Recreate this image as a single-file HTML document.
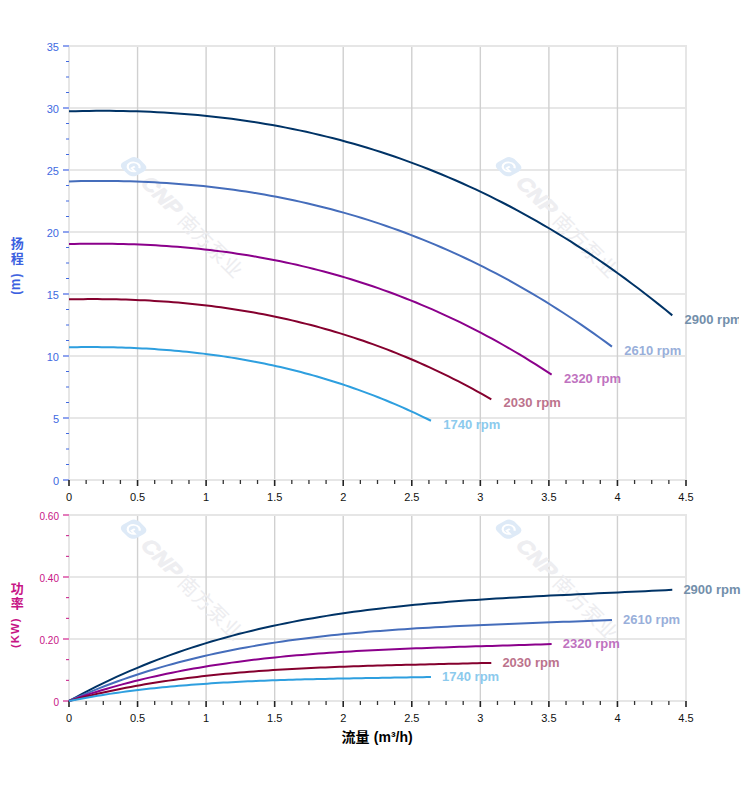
<!DOCTYPE html>
<html><head><meta charset="utf-8"><title>Pump curves</title>
<style>html,body{margin:0;padding:0;background:#fff}body{width:752px;height:797px;overflow:hidden;font-family:"Liberation Sans",sans-serif}</style>
</head><body>
<svg width="752" height="797" viewBox="0 0 752 797" style="display:block;font-family:'Liberation Sans',sans-serif">
<rect width="752" height="797" fill="#fff"/>
<line x1="69" x2="686" y1="480" y2="480" stroke="#cfcfcf" stroke-width="1"/>
<line x1="69" x2="686" y1="418" y2="418" stroke="#cfcfcf" stroke-width="1"/>
<line x1="69" x2="686" y1="356" y2="356" stroke="#cfcfcf" stroke-width="1"/>
<line x1="69" x2="686" y1="294" y2="294" stroke="#cfcfcf" stroke-width="1"/>
<line x1="69" x2="686" y1="232" y2="232" stroke="#cfcfcf" stroke-width="1"/>
<line x1="69" x2="686" y1="170" y2="170" stroke="#cfcfcf" stroke-width="1"/>
<line x1="69" x2="686" y1="108" y2="108" stroke="#cfcfcf" stroke-width="1"/>
<line x1="69" x2="686" y1="46" y2="46" stroke="#cfcfcf" stroke-width="1"/>
<line x1="69" x2="69" y1="46" y2="480" stroke="#d0d0d0" stroke-width="1.4"/>
<line x1="137.56" x2="137.56" y1="46" y2="480" stroke="#d0d0d0" stroke-width="1.4"/>
<line x1="206.11" x2="206.11" y1="46" y2="480" stroke="#d0d0d0" stroke-width="1.4"/>
<line x1="274.67" x2="274.67" y1="46" y2="480" stroke="#d0d0d0" stroke-width="1.4"/>
<line x1="343.22" x2="343.22" y1="46" y2="480" stroke="#d0d0d0" stroke-width="1.4"/>
<line x1="411.78" x2="411.78" y1="46" y2="480" stroke="#d0d0d0" stroke-width="1.4"/>
<line x1="480.33" x2="480.33" y1="46" y2="480" stroke="#d0d0d0" stroke-width="1.4"/>
<line x1="548.89" x2="548.89" y1="46" y2="480" stroke="#d0d0d0" stroke-width="1.4"/>
<line x1="617.44" x2="617.44" y1="46" y2="480" stroke="#d0d0d0" stroke-width="1.4"/>
<line x1="686" x2="686" y1="46" y2="480" stroke="#d0d0d0" stroke-width="1.4"/>
<rect x="69" y="46" width="617" height="434" fill="none" stroke="#e6e6e6" stroke-width="2"/>
<g transform="translate(133.6 166.7) rotate(45)">
<g transform="skewX(-16)">
<rect x="-9.5" y="-9.5" width="19" height="19" rx="5.5" fill="#deeaf7"/>
<path d="M4.4 -3 A5.2 5.2 0 1 0 4.9 2.4 L0.4 2.4 L0.4 -1" fill="none" stroke="#fff" stroke-width="1.9"/>
</g>
<text transform="translate(15.5 7.6) skewX(-14)" font-size="20.7" font-weight="bold" fill="#eeeef1" stroke="#eeeef1" stroke-width="0.8" textLength="47" lengthAdjust="spacingAndGlyphs">CNP</text>
<text x="69.2 89.7 110.2 130.7" y="8.4" font-size="20" fill="#ededf0" style="font-family:'Liberation Sans','Noto Sans CJK SC',sans-serif">南方泵业</text>
</g>
<g transform="translate(508.6 166.7) rotate(45)">
<g transform="skewX(-16)">
<rect x="-9.5" y="-9.5" width="19" height="19" rx="5.5" fill="#deeaf7"/>
<path d="M4.4 -3 A5.2 5.2 0 1 0 4.9 2.4 L0.4 2.4 L0.4 -1" fill="none" stroke="#fff" stroke-width="1.9"/>
</g>
<text transform="translate(15.5 7.6) skewX(-14)" font-size="20.7" font-weight="bold" fill="#eeeef1" stroke="#eeeef1" stroke-width="0.8" textLength="47" lengthAdjust="spacingAndGlyphs">CNP</text>
<text x="69.2 89.7 110.2 130.7" y="8.4" font-size="20" fill="#ededf0" style="font-family:'Liberation Sans','Noto Sans CJK SC',sans-serif">南方泵业</text>
</g>
<line x1="63" x2="69" y1="480" y2="480" stroke="#8fa3ee" stroke-width="2"/>
<text x="59" y="484.9" font-size="11" fill="#4169e1" text-anchor="end">0</text>
<line x1="66" x2="69" y1="464.5" y2="464.5" stroke="#4169e1" stroke-width="1"/>
<line x1="66" x2="69" y1="449" y2="449" stroke="#4169e1" stroke-width="1"/>
<line x1="66" x2="69" y1="433.5" y2="433.5" stroke="#4169e1" stroke-width="1"/>
<line x1="63" x2="69" y1="418" y2="418" stroke="#8fa3ee" stroke-width="2"/>
<text x="59" y="422.9" font-size="11" fill="#4169e1" text-anchor="end">5</text>
<line x1="66" x2="69" y1="402.5" y2="402.5" stroke="#4169e1" stroke-width="1"/>
<line x1="66" x2="69" y1="387" y2="387" stroke="#4169e1" stroke-width="1"/>
<line x1="66" x2="69" y1="371.5" y2="371.5" stroke="#4169e1" stroke-width="1"/>
<line x1="63" x2="69" y1="356" y2="356" stroke="#8fa3ee" stroke-width="2"/>
<text x="59" y="360.9" font-size="11" fill="#4169e1" text-anchor="end">10</text>
<line x1="66" x2="69" y1="340.5" y2="340.5" stroke="#4169e1" stroke-width="1"/>
<line x1="66" x2="69" y1="325" y2="325" stroke="#4169e1" stroke-width="1"/>
<line x1="66" x2="69" y1="309.5" y2="309.5" stroke="#4169e1" stroke-width="1"/>
<line x1="63" x2="69" y1="294" y2="294" stroke="#8fa3ee" stroke-width="2"/>
<text x="59" y="298.9" font-size="11" fill="#4169e1" text-anchor="end">15</text>
<line x1="66" x2="69" y1="278.5" y2="278.5" stroke="#4169e1" stroke-width="1"/>
<line x1="66" x2="69" y1="263" y2="263" stroke="#4169e1" stroke-width="1"/>
<line x1="66" x2="69" y1="247.5" y2="247.5" stroke="#4169e1" stroke-width="1"/>
<line x1="63" x2="69" y1="232" y2="232" stroke="#8fa3ee" stroke-width="2"/>
<text x="59" y="236.9" font-size="11" fill="#4169e1" text-anchor="end">20</text>
<line x1="66" x2="69" y1="216.5" y2="216.5" stroke="#4169e1" stroke-width="1"/>
<line x1="66" x2="69" y1="201" y2="201" stroke="#4169e1" stroke-width="1"/>
<line x1="66" x2="69" y1="185.5" y2="185.5" stroke="#4169e1" stroke-width="1"/>
<line x1="63" x2="69" y1="170" y2="170" stroke="#8fa3ee" stroke-width="2"/>
<text x="59" y="174.9" font-size="11" fill="#4169e1" text-anchor="end">25</text>
<line x1="66" x2="69" y1="154.5" y2="154.5" stroke="#4169e1" stroke-width="1"/>
<line x1="66" x2="69" y1="139" y2="139" stroke="#4169e1" stroke-width="1"/>
<line x1="66" x2="69" y1="123.5" y2="123.5" stroke="#4169e1" stroke-width="1"/>
<line x1="63" x2="69" y1="108" y2="108" stroke="#8fa3ee" stroke-width="2"/>
<text x="59" y="112.9" font-size="11" fill="#4169e1" text-anchor="end">30</text>
<line x1="66" x2="69" y1="92.5" y2="92.5" stroke="#4169e1" stroke-width="1"/>
<line x1="66" x2="69" y1="77" y2="77" stroke="#4169e1" stroke-width="1"/>
<line x1="66" x2="69" y1="61.5" y2="61.5" stroke="#4169e1" stroke-width="1"/>
<line x1="63" x2="69" y1="46" y2="46" stroke="#8fa3ee" stroke-width="2"/>
<text x="59" y="50.9" font-size="11" fill="#4169e1" text-anchor="end">35</text>
<line x1="69" x2="69" y1="480" y2="486" stroke="#222" stroke-width="1.6"/>
<text x="69" y="501" font-size="11" fill="#111" text-anchor="middle">0</text>
<line x1="86.14" x2="86.14" y1="480" y2="484" stroke="#333" stroke-width="1.3"/>
<line x1="103.28" x2="103.28" y1="480" y2="484" stroke="#333" stroke-width="1.3"/>
<line x1="120.42" x2="120.42" y1="480" y2="484" stroke="#333" stroke-width="1.3"/>
<line x1="137.56" x2="137.56" y1="480" y2="486" stroke="#222" stroke-width="1.6"/>
<text x="137.56" y="501" font-size="11" fill="#111" text-anchor="middle">0.5</text>
<line x1="154.69" x2="154.69" y1="480" y2="484" stroke="#333" stroke-width="1.3"/>
<line x1="171.83" x2="171.83" y1="480" y2="484" stroke="#333" stroke-width="1.3"/>
<line x1="188.97" x2="188.97" y1="480" y2="484" stroke="#333" stroke-width="1.3"/>
<line x1="206.11" x2="206.11" y1="480" y2="486" stroke="#222" stroke-width="1.6"/>
<text x="206.11" y="501" font-size="11" fill="#111" text-anchor="middle">1</text>
<line x1="223.25" x2="223.25" y1="480" y2="484" stroke="#333" stroke-width="1.3"/>
<line x1="240.39" x2="240.39" y1="480" y2="484" stroke="#333" stroke-width="1.3"/>
<line x1="257.53" x2="257.53" y1="480" y2="484" stroke="#333" stroke-width="1.3"/>
<line x1="274.67" x2="274.67" y1="480" y2="486" stroke="#222" stroke-width="1.6"/>
<text x="274.67" y="501" font-size="11" fill="#111" text-anchor="middle">1.5</text>
<line x1="291.81" x2="291.81" y1="480" y2="484" stroke="#333" stroke-width="1.3"/>
<line x1="308.94" x2="308.94" y1="480" y2="484" stroke="#333" stroke-width="1.3"/>
<line x1="326.08" x2="326.08" y1="480" y2="484" stroke="#333" stroke-width="1.3"/>
<line x1="343.22" x2="343.22" y1="480" y2="486" stroke="#222" stroke-width="1.6"/>
<text x="343.22" y="501" font-size="11" fill="#111" text-anchor="middle">2</text>
<line x1="360.36" x2="360.36" y1="480" y2="484" stroke="#333" stroke-width="1.3"/>
<line x1="377.5" x2="377.5" y1="480" y2="484" stroke="#333" stroke-width="1.3"/>
<line x1="394.64" x2="394.64" y1="480" y2="484" stroke="#333" stroke-width="1.3"/>
<line x1="411.78" x2="411.78" y1="480" y2="486" stroke="#222" stroke-width="1.6"/>
<text x="411.78" y="501" font-size="11" fill="#111" text-anchor="middle">2.5</text>
<line x1="428.92" x2="428.92" y1="480" y2="484" stroke="#333" stroke-width="1.3"/>
<line x1="446.06" x2="446.06" y1="480" y2="484" stroke="#333" stroke-width="1.3"/>
<line x1="463.19" x2="463.19" y1="480" y2="484" stroke="#333" stroke-width="1.3"/>
<line x1="480.33" x2="480.33" y1="480" y2="486" stroke="#222" stroke-width="1.6"/>
<text x="480.33" y="501" font-size="11" fill="#111" text-anchor="middle">3</text>
<line x1="497.47" x2="497.47" y1="480" y2="484" stroke="#333" stroke-width="1.3"/>
<line x1="514.61" x2="514.61" y1="480" y2="484" stroke="#333" stroke-width="1.3"/>
<line x1="531.75" x2="531.75" y1="480" y2="484" stroke="#333" stroke-width="1.3"/>
<line x1="548.89" x2="548.89" y1="480" y2="486" stroke="#222" stroke-width="1.6"/>
<text x="548.89" y="501" font-size="11" fill="#111" text-anchor="middle">3.5</text>
<line x1="566.03" x2="566.03" y1="480" y2="484" stroke="#333" stroke-width="1.3"/>
<line x1="583.17" x2="583.17" y1="480" y2="484" stroke="#333" stroke-width="1.3"/>
<line x1="600.31" x2="600.31" y1="480" y2="484" stroke="#333" stroke-width="1.3"/>
<line x1="617.44" x2="617.44" y1="480" y2="486" stroke="#222" stroke-width="1.6"/>
<text x="617.44" y="501" font-size="11" fill="#111" text-anchor="middle">4</text>
<line x1="634.58" x2="634.58" y1="480" y2="484" stroke="#333" stroke-width="1.3"/>
<line x1="651.72" x2="651.72" y1="480" y2="484" stroke="#333" stroke-width="1.3"/>
<line x1="668.86" x2="668.86" y1="480" y2="484" stroke="#333" stroke-width="1.3"/>
<line x1="686" x2="686" y1="480" y2="486" stroke="#222" stroke-width="1.6"/>
<text x="686" y="501" font-size="11" fill="#111" text-anchor="middle">4.5</text>
<line x1="69" x2="686" y1="701" y2="701" stroke="#cfcfcf" stroke-width="1"/>
<line x1="69" x2="686" y1="639" y2="639" stroke="#cfcfcf" stroke-width="1"/>
<line x1="69" x2="686" y1="577" y2="577" stroke="#cfcfcf" stroke-width="1"/>
<line x1="69" x2="686" y1="515" y2="515" stroke="#cfcfcf" stroke-width="1"/>
<line x1="69" x2="69" y1="515" y2="701" stroke="#d0d0d0" stroke-width="1.4"/>
<line x1="137.56" x2="137.56" y1="515" y2="701" stroke="#d0d0d0" stroke-width="1.4"/>
<line x1="206.11" x2="206.11" y1="515" y2="701" stroke="#d0d0d0" stroke-width="1.4"/>
<line x1="274.67" x2="274.67" y1="515" y2="701" stroke="#d0d0d0" stroke-width="1.4"/>
<line x1="343.22" x2="343.22" y1="515" y2="701" stroke="#d0d0d0" stroke-width="1.4"/>
<line x1="411.78" x2="411.78" y1="515" y2="701" stroke="#d0d0d0" stroke-width="1.4"/>
<line x1="480.33" x2="480.33" y1="515" y2="701" stroke="#d0d0d0" stroke-width="1.4"/>
<line x1="548.89" x2="548.89" y1="515" y2="701" stroke="#d0d0d0" stroke-width="1.4"/>
<line x1="617.44" x2="617.44" y1="515" y2="701" stroke="#d0d0d0" stroke-width="1.4"/>
<line x1="686" x2="686" y1="515" y2="701" stroke="#d0d0d0" stroke-width="1.4"/>
<rect x="69" y="515" width="617" height="186" fill="none" stroke="#e6e6e6" stroke-width="2"/>
<g transform="translate(133.6 529.2) rotate(45)">
<g transform="skewX(-16)">
<rect x="-9.5" y="-9.5" width="19" height="19" rx="5.5" fill="#deeaf7"/>
<path d="M4.4 -3 A5.2 5.2 0 1 0 4.9 2.4 L0.4 2.4 L0.4 -1" fill="none" stroke="#fff" stroke-width="1.9"/>
</g>
<text transform="translate(15.5 7.6) skewX(-14)" font-size="20.7" font-weight="bold" fill="#eeeef1" stroke="#eeeef1" stroke-width="0.8" textLength="47" lengthAdjust="spacingAndGlyphs">CNP</text>
<text x="69.2 89.7 110.2 130.7" y="8.4" font-size="20" fill="#ededf0" style="font-family:'Liberation Sans','Noto Sans CJK SC',sans-serif">南方泵业</text>
</g>
<g transform="translate(508.6 529.2) rotate(45)">
<g transform="skewX(-16)">
<rect x="-9.5" y="-9.5" width="19" height="19" rx="5.5" fill="#deeaf7"/>
<path d="M4.4 -3 A5.2 5.2 0 1 0 4.9 2.4 L0.4 2.4 L0.4 -1" fill="none" stroke="#fff" stroke-width="1.9"/>
</g>
<text transform="translate(15.5 7.6) skewX(-14)" font-size="20.7" font-weight="bold" fill="#eeeef1" stroke="#eeeef1" stroke-width="0.8" textLength="47" lengthAdjust="spacingAndGlyphs">CNP</text>
<text x="69.2 89.7 110.2 130.7" y="8.4" font-size="20" fill="#ededf0" style="font-family:'Liberation Sans','Noto Sans CJK SC',sans-serif">南方泵业</text>
</g>
<line x1="63" x2="69" y1="701" y2="701" stroke="#e37cbb" stroke-width="2"/>
<text x="59" y="706" font-size="10" fill="#c71585" text-anchor="end">0</text>
<line x1="66" x2="69" y1="680.33" y2="680.33" stroke="#c71585" stroke-width="1"/>
<line x1="66" x2="69" y1="659.67" y2="659.67" stroke="#c71585" stroke-width="1"/>
<line x1="63" x2="69" y1="639" y2="639" stroke="#e37cbb" stroke-width="2"/>
<text x="59" y="644" font-size="10" fill="#c71585" text-anchor="end">0.20</text>
<line x1="66" x2="69" y1="618.33" y2="618.33" stroke="#c71585" stroke-width="1"/>
<line x1="66" x2="69" y1="597.67" y2="597.67" stroke="#c71585" stroke-width="1"/>
<line x1="63" x2="69" y1="577" y2="577" stroke="#e37cbb" stroke-width="2"/>
<text x="59" y="582" font-size="10" fill="#c71585" text-anchor="end">0.40</text>
<line x1="66" x2="69" y1="556.33" y2="556.33" stroke="#c71585" stroke-width="1"/>
<line x1="66" x2="69" y1="535.67" y2="535.67" stroke="#c71585" stroke-width="1"/>
<line x1="63" x2="69" y1="515" y2="515" stroke="#e37cbb" stroke-width="2"/>
<text x="59" y="520" font-size="10" fill="#c71585" text-anchor="end">0.60</text>
<line x1="69" x2="69" y1="701" y2="707" stroke="#222" stroke-width="1.6"/>
<text x="69" y="722" font-size="11" fill="#111" text-anchor="middle">0</text>
<line x1="86.14" x2="86.14" y1="701" y2="705" stroke="#333" stroke-width="1.3"/>
<line x1="103.28" x2="103.28" y1="701" y2="705" stroke="#333" stroke-width="1.3"/>
<line x1="120.42" x2="120.42" y1="701" y2="705" stroke="#333" stroke-width="1.3"/>
<line x1="137.56" x2="137.56" y1="701" y2="707" stroke="#222" stroke-width="1.6"/>
<text x="137.56" y="722" font-size="11" fill="#111" text-anchor="middle">0.5</text>
<line x1="154.69" x2="154.69" y1="701" y2="705" stroke="#333" stroke-width="1.3"/>
<line x1="171.83" x2="171.83" y1="701" y2="705" stroke="#333" stroke-width="1.3"/>
<line x1="188.97" x2="188.97" y1="701" y2="705" stroke="#333" stroke-width="1.3"/>
<line x1="206.11" x2="206.11" y1="701" y2="707" stroke="#222" stroke-width="1.6"/>
<text x="206.11" y="722" font-size="11" fill="#111" text-anchor="middle">1</text>
<line x1="223.25" x2="223.25" y1="701" y2="705" stroke="#333" stroke-width="1.3"/>
<line x1="240.39" x2="240.39" y1="701" y2="705" stroke="#333" stroke-width="1.3"/>
<line x1="257.53" x2="257.53" y1="701" y2="705" stroke="#333" stroke-width="1.3"/>
<line x1="274.67" x2="274.67" y1="701" y2="707" stroke="#222" stroke-width="1.6"/>
<text x="274.67" y="722" font-size="11" fill="#111" text-anchor="middle">1.5</text>
<line x1="291.81" x2="291.81" y1="701" y2="705" stroke="#333" stroke-width="1.3"/>
<line x1="308.94" x2="308.94" y1="701" y2="705" stroke="#333" stroke-width="1.3"/>
<line x1="326.08" x2="326.08" y1="701" y2="705" stroke="#333" stroke-width="1.3"/>
<line x1="343.22" x2="343.22" y1="701" y2="707" stroke="#222" stroke-width="1.6"/>
<text x="343.22" y="722" font-size="11" fill="#111" text-anchor="middle">2</text>
<line x1="360.36" x2="360.36" y1="701" y2="705" stroke="#333" stroke-width="1.3"/>
<line x1="377.5" x2="377.5" y1="701" y2="705" stroke="#333" stroke-width="1.3"/>
<line x1="394.64" x2="394.64" y1="701" y2="705" stroke="#333" stroke-width="1.3"/>
<line x1="411.78" x2="411.78" y1="701" y2="707" stroke="#222" stroke-width="1.6"/>
<text x="411.78" y="722" font-size="11" fill="#111" text-anchor="middle">2.5</text>
<line x1="428.92" x2="428.92" y1="701" y2="705" stroke="#333" stroke-width="1.3"/>
<line x1="446.06" x2="446.06" y1="701" y2="705" stroke="#333" stroke-width="1.3"/>
<line x1="463.19" x2="463.19" y1="701" y2="705" stroke="#333" stroke-width="1.3"/>
<line x1="480.33" x2="480.33" y1="701" y2="707" stroke="#222" stroke-width="1.6"/>
<text x="480.33" y="722" font-size="11" fill="#111" text-anchor="middle">3</text>
<line x1="497.47" x2="497.47" y1="701" y2="705" stroke="#333" stroke-width="1.3"/>
<line x1="514.61" x2="514.61" y1="701" y2="705" stroke="#333" stroke-width="1.3"/>
<line x1="531.75" x2="531.75" y1="701" y2="705" stroke="#333" stroke-width="1.3"/>
<line x1="548.89" x2="548.89" y1="701" y2="707" stroke="#222" stroke-width="1.6"/>
<text x="548.89" y="722" font-size="11" fill="#111" text-anchor="middle">3.5</text>
<line x1="566.03" x2="566.03" y1="701" y2="705" stroke="#333" stroke-width="1.3"/>
<line x1="583.17" x2="583.17" y1="701" y2="705" stroke="#333" stroke-width="1.3"/>
<line x1="600.31" x2="600.31" y1="701" y2="705" stroke="#333" stroke-width="1.3"/>
<line x1="617.44" x2="617.44" y1="701" y2="707" stroke="#222" stroke-width="1.6"/>
<text x="617.44" y="722" font-size="11" fill="#111" text-anchor="middle">4</text>
<line x1="634.58" x2="634.58" y1="701" y2="705" stroke="#333" stroke-width="1.3"/>
<line x1="651.72" x2="651.72" y1="701" y2="705" stroke="#333" stroke-width="1.3"/>
<line x1="668.86" x2="668.86" y1="701" y2="705" stroke="#333" stroke-width="1.3"/>
<line x1="686" x2="686" y1="701" y2="707" stroke="#222" stroke-width="1.6"/>
<text x="686" y="722" font-size="11" fill="#111" text-anchor="middle">4.5</text>
<defs><clipPath id="clip1"><rect x="0" y="0" width="739" height="797"/></clipPath></defs>
<path d="M69 111.33 L75.78 111.15 L82.56 111 L89.34 110.9 L96.11 110.84 L102.89 110.81 L109.67 110.83 L116.45 110.89 L123.23 110.99 L130.01 111.13 L136.79 111.32 L143.56 111.55 L150.34 111.83 L157.12 112.15 L163.9 112.51 L170.68 112.92 L177.46 113.38 L184.23 113.89 L191.01 114.45 L197.79 115.05 L204.57 115.7 L211.35 116.41 L218.13 117.16 L224.91 117.96 L231.68 118.82 L238.46 119.73 L245.24 120.69 L252.02 121.71 L258.8 122.78 L265.58 123.91 L272.36 125.09 L279.13 126.33 L285.91 127.62 L292.69 128.97 L299.47 130.38 L306.25 131.85 L313.03 133.38 L319.81 134.97 L326.58 136.61 L333.36 138.32 L340.14 140.09 L346.92 141.93 L353.7 143.83 L360.48 145.79 L367.26 147.81 L374.03 149.9 L380.81 152.05 L387.59 154.27 L394.37 156.56 L401.15 158.92 L407.93 161.34 L414.7 163.83 L421.48 166.39 L428.26 169.02 L435.04 171.72 L441.82 174.5 L448.6 177.34 L455.38 180.25 L462.15 183.24 L468.93 186.3 L475.71 189.44 L482.49 192.65 L489.27 195.94 L496.05 199.3 L502.83 202.74 L509.6 206.25 L516.38 209.85 L523.16 213.52 L529.94 217.27 L536.72 221.1 L543.5 225.01 L550.28 229.01 L557.05 233.08 L563.83 237.23 L570.61 241.47 L577.39 245.79 L584.17 250.2 L590.95 254.69 L597.73 259.27 L604.5 263.93 L611.28 268.67 L618.06 273.51 L624.84 278.43 L631.62 283.44 L638.4 288.54 L645.17 293.73 L651.95 299.01 L658.73 304.38 L665.51 309.84 L672.29 315.39" fill="none" stroke="#003366" stroke-width="2" stroke-linejoin="round"/>
<path d="M69 701 L75.78 697.27 L82.56 693.64 L89.34 690.11 L96.11 686.68 L102.89 683.35 L109.67 680.11 L116.45 676.96 L123.23 673.9 L130.01 670.93 L136.79 668.05 L143.56 665.25 L150.34 662.54 L157.12 659.91 L163.9 657.35 L170.68 654.88 L177.46 652.48 L184.23 650.16 L191.01 647.91 L197.79 645.73 L204.57 643.62 L211.35 641.58 L218.13 639.61 L224.91 637.7 L231.68 635.86 L238.46 634.08 L245.24 632.36 L252.02 630.69 L258.8 629.09 L265.58 627.54 L272.36 626.05 L279.13 624.61 L285.91 623.22 L292.69 621.88 L299.47 620.59 L306.25 619.34 L313.03 618.15 L319.81 616.99 L326.58 615.88 L333.36 614.82 L340.14 613.79 L346.92 612.8 L353.7 611.85 L360.48 610.94 L367.26 610.06 L374.03 609.22 L380.81 608.41 L387.59 607.63 L394.37 606.89 L401.15 606.17 L407.93 605.48 L414.7 604.82 L421.48 604.18 L428.26 603.57 L435.04 602.98 L441.82 602.41 L448.6 601.87 L455.38 601.35 L462.15 600.84 L468.93 600.36 L475.71 599.89 L482.49 599.44 L489.27 599 L496.05 598.58 L502.83 598.17 L509.6 597.78 L516.38 597.39 L523.16 597.02 L529.94 596.65 L536.72 596.3 L543.5 595.95 L550.28 595.61 L557.05 595.28 L563.83 594.95 L570.61 594.63 L577.39 594.31 L584.17 593.99 L590.95 593.68 L597.73 593.37 L604.5 593.06 L611.28 592.75 L618.06 592.44 L624.84 592.12 L631.62 591.81 L638.4 591.49 L645.17 591.18 L651.95 590.85 L658.73 590.52 L665.51 590.19 L672.29 589.85" fill="none" stroke="#003366" stroke-width="2" stroke-linejoin="round"/>
<text x="684.59" y="323.79" font-size="13" font-weight="bold" fill="#738fab" clip-path="url(#clip1)">2900 rpm</text>
<text x="683.39" y="594.25" font-size="13" font-weight="bold" fill="#738fab">2900 rpm</text>
<path d="M69 181.38 L75.1 181.23 L81.2 181.11 L87.3 181.03 L93.4 180.98 L99.5 180.96 L105.6 180.97 L111.7 181.02 L117.81 181.1 L123.91 181.22 L130.01 181.37 L136.11 181.56 L142.21 181.78 L148.31 182.04 L154.41 182.33 L160.51 182.67 L166.61 183.04 L172.71 183.45 L178.81 183.9 L184.91 184.39 L191.01 184.92 L197.11 185.49 L203.21 186.1 L209.32 186.75 L215.42 187.45 L221.52 188.18 L227.62 188.96 L233.72 189.78 L239.82 190.65 L245.92 191.56 L252.02 192.52 L258.12 193.52 L264.22 194.57 L270.32 195.67 L276.42 196.81 L282.52 198 L288.62 199.24 L294.72 200.52 L300.83 201.86 L306.93 203.24 L313.03 204.68 L319.13 206.16 L325.23 207.7 L331.33 209.29 L337.43 210.93 L343.53 212.62 L349.63 214.36 L355.73 216.16 L361.83 218.02 L367.93 219.92 L374.03 221.89 L380.13 223.9 L386.24 225.98 L392.34 228.11 L398.44 230.3 L404.54 232.54 L410.64 234.84 L416.74 237.21 L422.84 239.63 L428.94 242.11 L435.04 244.65 L441.14 247.25 L447.24 249.91 L453.34 252.63 L459.44 255.42 L465.54 258.27 L471.64 261.18 L477.75 264.15 L483.85 267.19 L489.95 270.29 L496.05 273.46 L502.15 276.69 L508.25 279.99 L514.35 283.36 L520.45 286.79 L526.55 290.29 L532.65 293.86 L538.75 297.5 L544.85 301.2 L550.95 304.98 L557.05 308.83 L563.15 312.74 L569.26 316.73 L575.36 320.79 L581.46 324.92 L587.56 329.12 L593.66 333.4 L599.76 337.75 L605.86 342.17 L611.96 346.67" fill="none" stroke="#456dbb" stroke-width="2" stroke-linejoin="round"/>
<path d="M69 701 L75.1 698.28 L81.2 695.64 L87.3 693.06 L93.4 690.56 L99.5 688.13 L105.6 685.77 L111.7 683.47 L117.81 681.24 L123.91 679.08 L130.01 676.98 L136.11 674.94 L142.21 672.96 L148.31 671.04 L154.41 669.18 L160.51 667.38 L166.61 665.63 L172.71 663.94 L178.81 662.3 L184.91 660.71 L191.01 659.17 L197.11 657.69 L203.21 656.25 L209.32 654.86 L215.42 653.51 L221.52 652.21 L227.62 650.96 L233.72 649.75 L239.82 648.58 L245.92 647.45 L252.02 646.36 L258.12 645.31 L264.22 644.3 L270.32 643.32 L276.42 642.38 L282.52 641.47 L288.62 640.6 L294.72 639.76 L300.83 638.95 L306.93 638.17 L313.03 637.42 L319.13 636.7 L325.23 636.01 L331.33 635.35 L337.43 634.71 L343.53 634.09 L349.63 633.5 L355.73 632.94 L361.83 632.39 L367.93 631.87 L374.03 631.36 L380.13 630.88 L386.24 630.42 L392.34 629.97 L398.44 629.54 L404.54 629.13 L410.64 628.73 L416.74 628.35 L422.84 627.99 L428.94 627.63 L435.04 627.29 L441.14 626.96 L447.24 626.64 L453.34 626.34 L459.44 626.04 L465.54 625.75 L471.64 625.47 L477.75 625.2 L483.85 624.93 L489.95 624.67 L496.05 624.42 L502.15 624.17 L508.25 623.93 L514.35 623.69 L520.45 623.46 L526.55 623.22 L532.65 622.99 L538.75 622.76 L544.85 622.54 L550.95 622.31 L557.05 622.08 L563.15 621.86 L569.26 621.63 L575.36 621.4 L581.46 621.17 L587.56 620.94 L593.66 620.7 L599.76 620.46 L605.86 620.22 L611.96 619.97" fill="none" stroke="#456dbb" stroke-width="2" stroke-linejoin="round"/>
<text x="624.26" y="355.07" font-size="13" font-weight="bold" fill="#99afda" clip-path="url(#clip1)">2610 rpm</text>
<text x="623.06" y="624.37" font-size="13" font-weight="bold" fill="#99afda">2610 rpm</text>
<path d="M69 244.05 L74.42 243.93 L79.85 243.84 L85.27 243.78 L90.69 243.74 L96.11 243.72 L101.54 243.73 L106.96 243.77 L112.38 243.83 L117.81 243.93 L123.23 244.05 L128.65 244.19 L134.07 244.37 L139.5 244.57 L144.92 244.81 L150.34 245.07 L155.77 245.37 L161.19 245.69 L166.61 246.04 L172.03 246.43 L177.46 246.85 L182.88 247.3 L188.3 247.78 L193.72 248.3 L199.15 248.85 L204.57 249.43 L209.99 250.04 L215.42 250.69 L220.84 251.38 L226.26 252.1 L231.68 252.86 L237.11 253.65 L242.53 254.48 L247.95 255.34 L253.38 256.24 L258.8 257.18 L264.22 258.16 L269.64 259.18 L275.07 260.23 L280.49 261.33 L285.91 262.46 L291.34 263.63 L296.76 264.85 L302.18 266.1 L307.6 267.4 L313.03 268.74 L318.45 270.11 L323.87 271.54 L329.3 273 L334.72 274.51 L340.14 276.06 L345.56 277.65 L350.99 279.29 L356.41 280.97 L361.83 282.7 L367.26 284.48 L372.68 286.3 L378.1 288.16 L383.52 290.08 L388.95 292.04 L394.37 294.04 L399.79 296.1 L405.21 298.2 L410.64 300.35 L416.06 302.55 L421.48 304.8 L426.91 307.1 L432.33 309.45 L437.75 311.85 L443.17 314.31 L448.6 316.81 L454.02 319.36 L459.44 321.97 L464.87 324.63 L470.29 327.34 L475.71 330.11 L481.13 332.93 L486.56 335.8 L491.98 338.73 L497.4 341.71 L502.83 344.75 L508.25 347.85 L513.67 351 L519.09 354.2 L524.52 357.47 L529.94 360.79 L535.36 364.17 L540.79 367.6 L546.21 371.1 L551.63 374.65" fill="none" stroke="#8b008b" stroke-width="2" stroke-linejoin="round"/>
<path d="M69 701 L74.42 699.09 L79.85 697.23 L85.27 695.43 L90.69 693.67 L96.11 691.96 L101.54 690.3 L106.96 688.69 L112.38 687.13 L117.81 685.6 L123.23 684.13 L128.65 682.7 L134.07 681.31 L139.5 679.96 L144.92 678.65 L150.34 677.39 L155.77 676.16 L161.19 674.97 L166.61 673.82 L172.03 672.7 L177.46 671.62 L182.88 670.58 L188.3 669.57 L193.72 668.59 L199.15 667.65 L204.57 666.74 L209.99 665.85 L215.42 665 L220.84 664.18 L226.26 663.39 L231.68 662.62 L237.11 661.89 L242.53 661.17 L247.95 660.49 L253.38 659.83 L258.8 659.19 L264.22 658.58 L269.64 657.99 L275.07 657.42 L280.49 656.87 L285.91 656.35 L291.34 655.84 L296.76 655.36 L302.18 654.89 L307.6 654.44 L313.03 654.01 L318.45 653.59 L323.87 653.2 L329.3 652.81 L334.72 652.45 L340.14 652.09 L345.56 651.75 L350.99 651.43 L356.41 651.11 L361.83 650.81 L367.26 650.52 L372.68 650.25 L378.1 649.98 L383.52 649.72 L388.95 649.47 L394.37 649.23 L399.79 649 L405.21 648.78 L410.64 648.56 L416.06 648.35 L421.48 648.15 L426.91 647.95 L432.33 647.76 L437.75 647.57 L443.17 647.39 L448.6 647.22 L454.02 647.04 L459.44 646.87 L464.87 646.7 L470.29 646.54 L475.71 646.37 L481.13 646.21 L486.56 646.05 L491.98 645.89 L497.4 645.73 L502.83 645.57 L508.25 645.42 L513.67 645.26 L519.09 645.1 L524.52 644.93 L529.94 644.77 L535.36 644.6 L540.79 644.44 L546.21 644.27 L551.63 644.09" fill="none" stroke="#8b008b" stroke-width="2" stroke-linejoin="round"/>
<text x="563.93" y="383.05" font-size="13" font-weight="bold" fill="#bf73bf" clip-path="url(#clip1)">2320 rpm</text>
<text x="562.73" y="648.49" font-size="13" font-weight="bold" fill="#bf73bf">2320 rpm</text>
<path d="M69 299.35 L73.74 299.26 L78.49 299.19 L83.23 299.14 L87.98 299.11 L92.72 299.1 L97.47 299.11 L102.21 299.14 L106.96 299.19 L111.7 299.26 L116.45 299.35 L121.19 299.46 L125.94 299.59 L130.68 299.75 L135.43 299.93 L140.17 300.13 L144.92 300.36 L149.66 300.61 L154.41 300.88 L159.15 301.17 L163.9 301.49 L168.64 301.84 L173.39 302.21 L178.13 302.6 L182.88 303.02 L187.62 303.47 L192.37 303.94 L197.11 304.44 L201.86 304.96 L206.6 305.51 L211.35 306.09 L216.09 306.7 L220.84 307.33 L225.58 308 L230.33 308.69 L235.07 309.41 L239.82 310.16 L244.56 310.93 L249.31 311.74 L254.05 312.58 L258.8 313.45 L263.54 314.34 L268.29 315.27 L273.03 316.23 L277.78 317.23 L282.52 318.25 L287.27 319.31 L292.01 320.39 L296.76 321.52 L301.5 322.67 L306.25 323.86 L310.99 325.08 L315.74 326.33 L320.48 327.62 L325.23 328.94 L329.97 330.3 L334.72 331.7 L339.46 333.12 L344.21 334.59 L348.95 336.09 L353.7 337.63 L358.44 339.2 L363.19 340.81 L367.93 342.46 L372.68 344.14 L377.42 345.86 L382.17 347.63 L386.91 349.42 L391.66 351.26 L396.4 353.14 L401.15 355.06 L405.89 357.01 L410.64 359.01 L415.38 361.04 L420.13 363.12 L424.87 365.24 L429.62 367.4 L434.36 369.6 L439.11 371.84 L443.85 374.12 L448.6 376.45 L453.34 378.82 L458.09 381.23 L462.83 383.69 L467.58 386.19 L472.32 388.73 L477.07 391.31 L481.81 393.95 L486.56 396.62 L491.3 399.34" fill="none" stroke="#85002e" stroke-width="2" stroke-linejoin="round"/>
<path d="M69 701 L73.74 699.72 L78.49 698.48 L83.23 697.27 L87.98 696.09 L92.72 694.95 L97.47 693.83 L102.21 692.75 L106.96 691.7 L111.7 690.69 L116.45 689.7 L121.19 688.74 L125.94 687.81 L130.68 686.9 L135.43 686.03 L140.17 685.18 L144.92 684.36 L149.66 683.56 L154.41 682.79 L159.15 682.04 L163.9 681.32 L168.64 680.62 L173.39 679.94 L178.13 679.29 L182.88 678.66 L187.62 678.05 L192.37 677.46 L197.11 676.89 L201.86 676.33 L206.6 675.8 L211.35 675.29 L216.09 674.8 L220.84 674.32 L225.58 673.86 L230.33 673.42 L235.07 672.99 L239.82 672.58 L244.56 672.19 L249.31 671.8 L254.05 671.44 L258.8 671.09 L263.54 670.75 L268.29 670.42 L273.03 670.11 L277.78 669.81 L282.52 669.52 L287.27 669.24 L292.01 668.98 L296.76 668.72 L301.5 668.47 L306.25 668.24 L310.99 668.01 L315.74 667.79 L320.48 667.58 L325.23 667.38 L329.97 667.18 L334.72 667 L339.46 666.82 L344.21 666.65 L348.95 666.48 L353.7 666.32 L358.44 666.16 L363.19 666.01 L367.93 665.87 L372.68 665.73 L377.42 665.59 L382.17 665.46 L386.91 665.33 L391.66 665.21 L396.4 665.09 L401.15 664.97 L405.89 664.85 L410.64 664.74 L415.38 664.63 L420.13 664.51 L424.87 664.41 L429.62 664.3 L434.36 664.19 L439.11 664.08 L443.85 663.98 L448.6 663.87 L453.34 663.76 L458.09 663.66 L462.83 663.55 L467.58 663.44 L472.32 663.33 L477.07 663.22 L481.81 663.11 L486.56 662.99 L491.3 662.88" fill="none" stroke="#85002e" stroke-width="2" stroke-linejoin="round"/>
<text x="503.6" y="406.74" font-size="13" font-weight="bold" fill="#bc738c" clip-path="url(#clip1)">2030 rpm</text>
<text x="502.4" y="667.28" font-size="13" font-weight="bold" fill="#bc738c">2030 rpm</text>
<path d="M69 347.28 L73.07 347.21 L77.13 347.16 L81.2 347.12 L85.27 347.1 L89.34 347.09 L93.4 347.1 L97.47 347.12 L101.54 347.16 L105.6 347.21 L109.67 347.28 L113.74 347.36 L117.81 347.46 L121.87 347.57 L125.94 347.7 L130.01 347.85 L134.07 348.02 L138.14 348.2 L142.21 348.4 L146.28 348.62 L150.34 348.85 L154.41 349.11 L158.48 349.38 L162.54 349.67 L166.61 349.98 L170.68 350.3 L174.75 350.65 L178.81 351.02 L182.88 351.4 L186.95 351.81 L191.01 352.23 L195.08 352.68 L199.15 353.14 L203.21 353.63 L207.28 354.14 L211.35 354.67 L215.42 355.22 L219.48 355.79 L223.55 356.38 L227.62 357 L231.68 357.63 L235.75 358.29 L239.82 358.98 L243.89 359.68 L247.95 360.41 L252.02 361.16 L256.09 361.94 L260.15 362.74 L264.22 363.56 L268.29 364.41 L272.36 365.28 L276.42 366.18 L280.49 367.1 L284.56 368.05 L288.62 369.02 L292.69 370.02 L296.76 371.04 L300.83 372.09 L304.89 373.17 L308.96 374.27 L313.03 375.4 L317.09 376.55 L321.16 377.74 L325.23 378.95 L329.3 380.19 L333.36 381.45 L337.43 382.75 L341.5 384.07 L345.56 385.42 L349.63 386.8 L353.7 388.2 L357.77 389.64 L361.83 391.11 L365.9 392.6 L369.97 394.13 L374.03 395.69 L378.1 397.27 L382.17 398.89 L386.24 400.54 L390.3 402.21 L394.37 403.92 L398.44 405.66 L402.5 407.44 L406.57 409.24 L410.64 411.07 L414.7 412.94 L418.77 414.84 L422.84 416.78 L426.91 418.74 L430.97 420.74" fill="none" stroke="#2e9fdf" stroke-width="2" stroke-linejoin="round"/>
<path d="M69 701 L73.07 700.19 L77.13 699.41 L81.2 698.65 L85.27 697.91 L89.34 697.19 L93.4 696.49 L97.47 695.81 L101.54 695.15 L105.6 694.51 L109.67 693.88 L113.74 693.28 L117.81 692.69 L121.87 692.12 L125.94 691.57 L130.01 691.04 L134.07 690.52 L138.14 690.02 L142.21 689.53 L146.28 689.06 L150.34 688.61 L154.41 688.17 L158.48 687.74 L162.54 687.33 L166.61 686.93 L170.68 686.54 L174.75 686.17 L178.81 685.81 L182.88 685.47 L186.95 685.13 L191.01 684.81 L195.08 684.5 L199.15 684.2 L203.21 683.91 L207.28 683.63 L211.35 683.36 L215.42 683.1 L219.48 682.85 L223.55 682.61 L227.62 682.38 L231.68 682.16 L235.75 681.95 L239.82 681.74 L243.89 681.55 L247.95 681.36 L252.02 681.18 L256.09 681 L260.15 680.83 L264.22 680.67 L268.29 680.52 L272.36 680.37 L276.42 680.22 L280.49 680.09 L284.56 679.95 L288.62 679.83 L292.69 679.71 L296.76 679.59 L300.83 679.47 L304.89 679.37 L308.96 679.26 L313.03 679.16 L317.09 679.06 L321.16 678.97 L325.23 678.88 L329.3 678.79 L333.36 678.7 L337.43 678.62 L341.5 678.54 L345.56 678.46 L349.63 678.38 L353.7 678.31 L357.77 678.24 L361.83 678.16 L365.9 678.09 L369.97 678.02 L374.03 677.95 L378.1 677.89 L382.17 677.82 L386.24 677.75 L390.3 677.68 L394.37 677.62 L398.44 677.55 L402.5 677.48 L406.57 677.42 L410.64 677.35 L414.7 677.28 L418.77 677.21 L422.84 677.14 L426.91 677.07 L430.97 676.99" fill="none" stroke="#2e9fdf" stroke-width="2" stroke-linejoin="round"/>
<text x="443.27" y="428.64" font-size="13" font-weight="bold" fill="#8ccaed" clip-path="url(#clip1)">1740 rpm</text>
<text x="442.07" y="681.39" font-size="13" font-weight="bold" fill="#8ccaed">1740 rpm</text>
<text x="341.6" y="741.8" font-size="14" font-weight="bold" fill="#000" style="font-family:'Liberation Sans','Noto Sans CJK SC',sans-serif">流量</text>
<text x="373.8" y="741.6" font-size="14" font-weight="bold" fill="#000">(m³/h)</text>
<text x="10.7" y="248" font-size="13" font-weight="bold" fill="#3b5fe0" style="font-family:'Liberation Sans','Noto Sans CJK SC',sans-serif">扬</text>
<text x="10.7" y="263" font-size="13" font-weight="bold" fill="#3b5fe0" style="font-family:'Liberation Sans','Noto Sans CJK SC',sans-serif">程</text>
<text transform="translate(20.2 294.4) rotate(-90) scale(0.8 1)" font-size="13" font-weight="bold" fill="#3b5fe0" stroke="#3b5fe0" stroke-width="0.3">(</text>
<text transform="translate(20.2 290.2) rotate(-90) scale(1 1.19)" font-size="13" font-weight="bold" fill="#3b5fe0">m</text>
<text transform="translate(20.2 277.3) rotate(-90) scale(0.8 1)" font-size="13" font-weight="bold" fill="#3b5fe0" stroke="#3b5fe0" stroke-width="0.3">)</text>
<text x="10.7" y="592.9" font-size="13" font-weight="bold" fill="#c71585" style="font-family:'Liberation Sans','Noto Sans CJK SC',sans-serif">功</text>
<text x="10.7" y="608.1" font-size="13" font-weight="bold" fill="#c71585" style="font-family:'Liberation Sans','Noto Sans CJK SC',sans-serif">率</text>
<text transform="translate(19.4 648.1) rotate(-90)" font-size="11.3" font-weight="bold" letter-spacing="1.1" fill="#c71585">(KW)</text>
</svg>
</body></html>
